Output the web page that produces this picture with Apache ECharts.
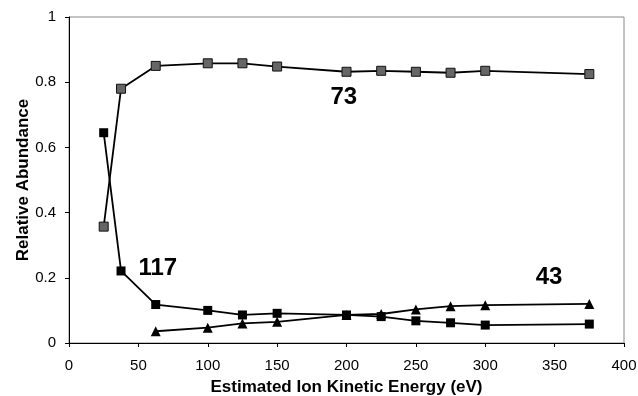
<!DOCTYPE html>
<html>
<head>
<meta charset="utf-8">
<script src="https://cdn.jsdelivr.net/npm/echarts@6/dist/echarts.min.js"></script>
<style>
html,body{margin:0;padding:0;background:#fff;}
#c{width:638px;height:396px;}
</style>
</head>
<body>
<div id="c"></div>
<script>
// Data
var energies = [25, 37.5, 62.5, 100, 125, 150, 200, 225, 250, 275, 300, 375];
var ion73 = [0.357, 0.780, 0.850, 0.858, 0.858, 0.848, 0.832, 0.835, 0.832, 0.829, 0.835, 0.825];
var ion117 = [0.645, 0.221, 0.118, 0.100, 0.086, 0.091, 0.086, 0.081, 0.068, 0.062, 0.055, 0.058];
var energies43 = [62.5, 100, 125, 150, 200, 225, 250, 275, 300, 375];
var ion43 = [0.036, 0.047, 0.060, 0.065, 0.086, 0.089, 0.103, 0.113, 0.116, 0.120];
var annotations = [
  {text: '73', x: 198, y: 0.752},
  {text: '117', x: 64, y: 0.23},
  {text: '43', x: 346, y: 0.20}
];

function pairs(xs, ys){ return xs.map(function(x,i){ return [x, ys[i]]; }); }

var chart = echarts.init(document.getElementById('c'));
var font = 'Liberation Sans, Arial, Helvetica, sans-serif';
chart.setOption({
  animation: false,
  backgroundColor: '#fff',
  grid: {left: 69, right: 14, top: 17, bottom: 53, show: true, borderColor: '#888', borderWidth: 1,
         containLabel: false, outerBoundsMode: 'none'},
  xAxis: {
    type: 'value', min: 0, max: 400, interval: 50,
    name: 'Estimated Ion Kinetic Energy (eV)', nameLocation: 'middle', nameGap: 36, nameMoveOverlap: false,
    nameTextStyle: {fontFamily: font, fontWeight: 'bold', fontSize: 17, color: '#000'},
    axisLine: {lineStyle: {color: '#000', width: 1}},
    axisTick: {show: true, length: 4, lineStyle: {color: '#000'}},
    axisLabel: {fontFamily: font, fontSize: 15, color: '#000', margin: 15},
    splitLine: {show: false}
  },
  yAxis: {
    type: 'value', min: 0, max: 1, interval: 0.2,
    name: 'Relative Abundance', nameLocation: 'middle', nameGap: 37, nameMoveOverlap: false,
    nameTextStyle: {fontFamily: font, fontWeight: 'bold', fontSize: 17, color: '#000'},
    axisLine: {show: true, lineStyle: {color: '#000', width: 1}},
    axisTick: {show: true, length: 4, lineStyle: {color: '#000'}},
    axisLabel: {fontFamily: font, fontSize: 15, color: '#000', margin: 13,
      formatter: function(v){ return String(Math.round(v*10)/10); }},
    splitLine: {show: false}
  },
  series: [
    {type: 'line', data: pairs(energies, ion73), symbol: 'rect', symbolSize: 9,
     lineStyle: {color: '#000', width: 1.8},
     itemStyle: {color: '#666', borderColor: '#111', borderWidth: 1}},
    {type: 'line', data: pairs(energies, ion117), symbol: 'rect', symbolSize: 9,
     lineStyle: {color: '#000', width: 1.8},
     itemStyle: {color: '#000', borderColor: '#000', borderWidth: 0}},
    {type: 'line', data: pairs(energies43, ion43), symbol: 'triangle', symbolSize: 10,
     lineStyle: {color: '#000', width: 1.8},
     itemStyle: {color: '#000', borderColor: '#000', borderWidth: 0}}
  ]
});

var g = annotations.map(function(a){
  var p = chart.convertToPixel({gridIndex: 0}, [a.x, a.y]);
  return {type: 'text', x: p[0], y: p[1],
    style: {text: a.text, fontFamily: font, fontWeight: 'bold', fontSize: 24, fill: '#000',
      align: 'center', verticalAlign: 'middle'}};
});
chart.setOption({graphic: g});
</script>
</body>
</html>
